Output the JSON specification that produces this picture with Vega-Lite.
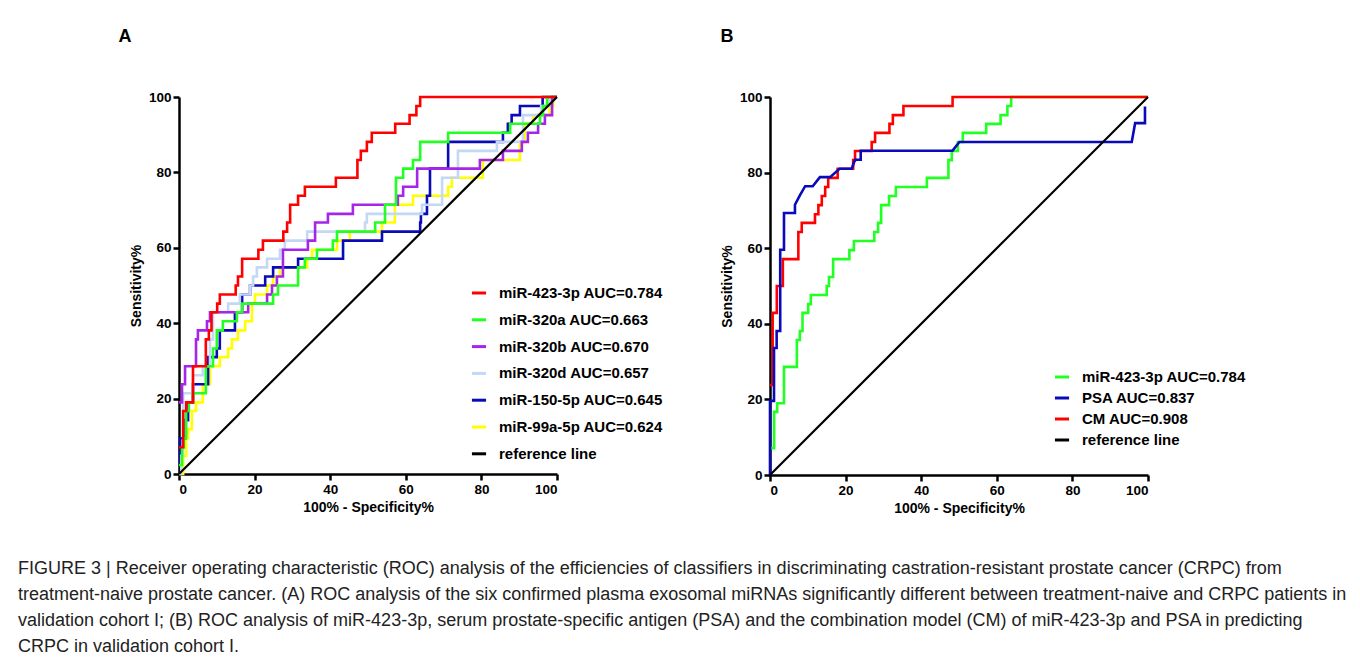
{
  "$schema": "https://vega.github.io/schema/vega-lite/v6.json",
  "padding": {"left": 18, "top": 28, "right": 5, "bottom": 0},
  "background": "white",
  "bounds": "flush",
  "spacing": 213,
  "resolve": {"scale": {"color": "independent"}, "legend": {"color": "independent"}},
  "title": {
    "text": [
      "FIGURE 3 | Receiver operating characteristic (ROC) analysis of the efficiencies of classifiers in discriminating castration-resistant prostate cancer (CRPC) from",
      "treatment-naive prostate cancer. (A) ROC analysis of the six confirmed plasma exosomal miRNAs significantly different between treatment-naive and CRPC patients in",
      "validation cohort I; (B) ROC analysis of miR-423-3p, serum prostate-specific antigen (PSA) and the combination model (CM) of miR-423-3p and PSA in predicting",
      "CRPC in validation cohort I."
    ],
    "orient": "bottom",
    "anchor": "start",
    "frame": "group",
    "dx": -161,
    "offset": 44,
    "font": "Liberation Sans",
    "fontSize": 18,
    "fontWeight": "normal",
    "color": "#222222",
    "lineHeight": 26
  },
  "datasets": {
    "m423": [
      {"s": "miR-423-3p AUC=0.784", "x": 0, "y": 7.1},
      {"s": "miR-423-3p AUC=0.784", "x": 1.1, "y": 16.7},
      {"s": "miR-423-3p AUC=0.784", "x": 1.9, "y": 19.0},
      {"s": "miR-423-3p AUC=0.784", "x": 3.7, "y": 28.6},
      {"s": "miR-423-3p AUC=0.784", "x": 7.1, "y": 35.7},
      {"s": "miR-423-3p AUC=0.784", "x": 7.9, "y": 38.1},
      {"s": "miR-423-3p AUC=0.784", "x": 8.6, "y": 42.9},
      {"s": "miR-423-3p AUC=0.784", "x": 10.1, "y": 45.2},
      {"s": "miR-423-3p AUC=0.784", "x": 10.8, "y": 47.6},
      {"s": "miR-423-3p AUC=0.784", "x": 15.0, "y": 50.0},
      {"s": "miR-423-3p AUC=0.784", "x": 15.6, "y": 52.4},
      {"s": "miR-423-3p AUC=0.784", "x": 16.7, "y": 57.1},
      {"s": "miR-423-3p AUC=0.784", "x": 21.0, "y": 59.5},
      {"s": "miR-423-3p AUC=0.784", "x": 22.2, "y": 61.9},
      {"s": "miR-423-3p AUC=0.784", "x": 27.6, "y": 64.3},
      {"s": "miR-423-3p AUC=0.784", "x": 28.6, "y": 66.7},
      {"s": "miR-423-3p AUC=0.784", "x": 29.4, "y": 71.4},
      {"s": "miR-423-3p AUC=0.784", "x": 31.5, "y": 73.8},
      {"s": "miR-423-3p AUC=0.784", "x": 33.3, "y": 76.2},
      {"s": "miR-423-3p AUC=0.784", "x": 41.5, "y": 78.6},
      {"s": "miR-423-3p AUC=0.784", "x": 47.2, "y": 83.3},
      {"s": "miR-423-3p AUC=0.784", "x": 48.1, "y": 85.7},
      {"s": "miR-423-3p AUC=0.784", "x": 49.7, "y": 88.1},
      {"s": "miR-423-3p AUC=0.784", "x": 51.0, "y": 90.5},
      {"s": "miR-423-3p AUC=0.784", "x": 57.2, "y": 92.9},
      {"s": "miR-423-3p AUC=0.784", "x": 61.0, "y": 95.2},
      {"s": "miR-423-3p AUC=0.784", "x": 62.8, "y": 97.6},
      {"s": "miR-423-3p AUC=0.784", "x": 63.8, "y": 100},
      {"s": "miR-423-3p AUC=0.784", "x": 100, "y": 100}
    ],
    "a6": [
      {"s": "miR-99a-5p AUC=0.624", "x": 0, "y": 0},
      {"s": "miR-99a-5p AUC=0.624", "x": 1.1, "y": 4.8},
      {"s": "miR-99a-5p AUC=0.624", "x": 1.9, "y": 9.5},
      {"s": "miR-99a-5p AUC=0.624", "x": 2.4, "y": 11.9},
      {"s": "miR-99a-5p AUC=0.624", "x": 3.4, "y": 16.7},
      {"s": "miR-99a-5p AUC=0.624", "x": 4.5, "y": 19.0},
      {"s": "miR-99a-5p AUC=0.624", "x": 6.3, "y": 23.8},
      {"s": "miR-99a-5p AUC=0.624", "x": 8.2, "y": 28.6},
      {"s": "miR-99a-5p AUC=0.624", "x": 10.8, "y": 31.0},
      {"s": "miR-99a-5p AUC=0.624", "x": 13.0, "y": 33.3},
      {"s": "miR-99a-5p AUC=0.624", "x": 14.0, "y": 35.7},
      {"s": "miR-99a-5p AUC=0.624", "x": 15.6, "y": 38.1},
      {"s": "miR-99a-5p AUC=0.624", "x": 17.5, "y": 40.5},
      {"s": "miR-99a-5p AUC=0.624", "x": 19.3, "y": 45.2},
      {"s": "miR-99a-5p AUC=0.624", "x": 20.1, "y": 47.6},
      {"s": "miR-99a-5p AUC=0.624", "x": 23.3, "y": 50.0},
      {"s": "miR-99a-5p AUC=0.624", "x": 24.9, "y": 52.4},
      {"s": "miR-99a-5p AUC=0.624", "x": 26.7, "y": 54.8},
      {"s": "miR-99a-5p AUC=0.624", "x": 33.9, "y": 57.1},
      {"s": "miR-99a-5p AUC=0.624", "x": 35.2, "y": 59.5},
      {"s": "miR-99a-5p AUC=0.624", "x": 41.8, "y": 61.9},
      {"s": "miR-99a-5p AUC=0.624", "x": 45.2, "y": 64.3},
      {"s": "miR-99a-5p AUC=0.624", "x": 53.7, "y": 66.7},
      {"s": "miR-99a-5p AUC=0.624", "x": 57.1, "y": 71.4},
      {"s": "miR-99a-5p AUC=0.624", "x": 61.9, "y": 73.8},
      {"s": "miR-99a-5p AUC=0.624", "x": 71.2, "y": 76.2},
      {"s": "miR-99a-5p AUC=0.624", "x": 72.2, "y": 78.6},
      {"s": "miR-99a-5p AUC=0.624", "x": 80.4, "y": 83.3},
      {"s": "miR-99a-5p AUC=0.624", "x": 90.2, "y": 88.1},
      {"s": "miR-99a-5p AUC=0.624", "x": 91.5, "y": 92.9},
      {"s": "miR-99a-5p AUC=0.624", "x": 93.7, "y": 95.2},
      {"s": "miR-99a-5p AUC=0.624", "x": 98.1, "y": 97.6},
      {"s": "miR-99a-5p AUC=0.624", "x": 99.0, "y": 100},
      {"s": "miR-99a-5p AUC=0.624", "x": 100, "y": 100},
      {"s": "miR-150-5p AUC=0.645", "x": 0, "y": 2.4},
      {"s": "miR-150-5p AUC=0.645", "x": 0.3, "y": 9.5},
      {"s": "miR-150-5p AUC=0.645", "x": 1.6, "y": 14.3},
      {"s": "miR-150-5p AUC=0.645", "x": 2.4, "y": 19.0},
      {"s": "miR-150-5p AUC=0.645", "x": 3.7, "y": 23.8},
      {"s": "miR-150-5p AUC=0.645", "x": 7.7, "y": 31.0},
      {"s": "miR-150-5p AUC=0.645", "x": 10.0, "y": 33.3},
      {"s": "miR-150-5p AUC=0.645", "x": 10.8, "y": 38.1},
      {"s": "miR-150-5p AUC=0.645", "x": 14.8, "y": 42.9},
      {"s": "miR-150-5p AUC=0.645", "x": 16.7, "y": 47.6},
      {"s": "miR-150-5p AUC=0.645", "x": 18.8, "y": 50.0},
      {"s": "miR-150-5p AUC=0.645", "x": 22.8, "y": 52.4},
      {"s": "miR-150-5p AUC=0.645", "x": 24.9, "y": 54.8},
      {"s": "miR-150-5p AUC=0.645", "x": 31.5, "y": 57.1},
      {"s": "miR-150-5p AUC=0.645", "x": 43.4, "y": 61.9},
      {"s": "miR-150-5p AUC=0.645", "x": 53.7, "y": 64.3},
      {"s": "miR-150-5p AUC=0.645", "x": 63.8, "y": 66.7},
      {"s": "miR-150-5p AUC=0.645", "x": 64.0, "y": 69.0},
      {"s": "miR-150-5p AUC=0.645", "x": 65.6, "y": 73.8},
      {"s": "miR-150-5p AUC=0.645", "x": 66.4, "y": 81.0},
      {"s": "miR-150-5p AUC=0.645", "x": 71.2, "y": 88.1},
      {"s": "miR-150-5p AUC=0.645", "x": 85.7, "y": 90.5},
      {"s": "miR-150-5p AUC=0.645", "x": 87.0, "y": 92.9},
      {"s": "miR-150-5p AUC=0.645", "x": 88.0, "y": 95.2},
      {"s": "miR-150-5p AUC=0.645", "x": 90.2, "y": 97.6},
      {"s": "miR-150-5p AUC=0.645", "x": 96.2, "y": 100},
      {"s": "miR-150-5p AUC=0.645", "x": 100, "y": 100},
      {"s": "miR-320d AUC=0.657", "x": 0, "y": 0},
      {"s": "miR-320d AUC=0.657", "x": 0.6, "y": 4.8},
      {"s": "miR-320d AUC=0.657", "x": 1.1, "y": 21.4},
      {"s": "miR-320d AUC=0.657", "x": 3.7, "y": 26.2},
      {"s": "miR-320d AUC=0.657", "x": 6.3, "y": 28.6},
      {"s": "miR-320d AUC=0.657", "x": 8.2, "y": 35.7},
      {"s": "miR-320d AUC=0.657", "x": 9.0, "y": 42.9},
      {"s": "miR-320d AUC=0.657", "x": 13.0, "y": 45.2},
      {"s": "miR-320d AUC=0.657", "x": 16.1, "y": 47.6},
      {"s": "miR-320d AUC=0.657", "x": 18.8, "y": 50.0},
      {"s": "miR-320d AUC=0.657", "x": 19.6, "y": 52.4},
      {"s": "miR-320d AUC=0.657", "x": 20.6, "y": 54.8},
      {"s": "miR-320d AUC=0.657", "x": 23.3, "y": 57.1},
      {"s": "miR-320d AUC=0.657", "x": 26.7, "y": 59.5},
      {"s": "miR-320d AUC=0.657", "x": 28.0, "y": 61.9},
      {"s": "miR-320d AUC=0.657", "x": 33.9, "y": 64.3},
      {"s": "miR-320d AUC=0.657", "x": 49.2, "y": 66.7},
      {"s": "miR-320d AUC=0.657", "x": 49.7, "y": 69.0},
      {"s": "miR-320d AUC=0.657", "x": 64.3, "y": 71.4},
      {"s": "miR-320d AUC=0.657", "x": 69.6, "y": 78.6},
      {"s": "miR-320d AUC=0.657", "x": 73.8, "y": 85.7},
      {"s": "miR-320d AUC=0.657", "x": 84.1, "y": 88.1},
      {"s": "miR-320d AUC=0.657", "x": 91.0, "y": 95.2},
      {"s": "miR-320d AUC=0.657", "x": 95.8, "y": 97.6},
      {"s": "miR-320d AUC=0.657", "x": 98.0, "y": 100},
      {"s": "miR-320d AUC=0.657", "x": 100, "y": 100},
      {"s": "miR-320b AUC=0.670", "x": 0, "y": 19.0},
      {"s": "miR-320b AUC=0.670", "x": 0.8, "y": 23.8},
      {"s": "miR-320b AUC=0.670", "x": 1.6, "y": 28.6},
      {"s": "miR-320b AUC=0.670", "x": 4.5, "y": 35.7},
      {"s": "miR-320b AUC=0.670", "x": 5.0, "y": 38.1},
      {"s": "miR-320b AUC=0.670", "x": 7.4, "y": 40.5},
      {"s": "miR-320b AUC=0.670", "x": 8.2, "y": 42.9},
      {"s": "miR-320b AUC=0.670", "x": 18.3, "y": 45.2},
      {"s": "miR-320b AUC=0.670", "x": 23.3, "y": 47.6},
      {"s": "miR-320b AUC=0.670", "x": 24.6, "y": 50.0},
      {"s": "miR-320b AUC=0.670", "x": 25.9, "y": 52.4},
      {"s": "miR-320b AUC=0.670", "x": 27.5, "y": 59.5},
      {"s": "miR-320b AUC=0.670", "x": 34.1, "y": 61.9},
      {"s": "miR-320b AUC=0.670", "x": 36.0, "y": 66.7},
      {"s": "miR-320b AUC=0.670", "x": 39.4, "y": 69.0},
      {"s": "miR-320b AUC=0.670", "x": 46.0, "y": 71.4},
      {"s": "miR-320b AUC=0.670", "x": 57.9, "y": 73.8},
      {"s": "miR-320b AUC=0.670", "x": 59.3, "y": 76.2},
      {"s": "miR-320b AUC=0.670", "x": 63.0, "y": 81.0},
      {"s": "miR-320b AUC=0.670", "x": 79.6, "y": 83.3},
      {"s": "miR-320b AUC=0.670", "x": 85.7, "y": 85.7},
      {"s": "miR-320b AUC=0.670", "x": 90.7, "y": 88.1},
      {"s": "miR-320b AUC=0.670", "x": 92.3, "y": 90.5},
      {"s": "miR-320b AUC=0.670", "x": 95.0, "y": 92.9},
      {"s": "miR-320b AUC=0.670", "x": 96.8, "y": 95.2},
      {"s": "miR-320b AUC=0.670", "x": 98.7, "y": 100},
      {"s": "miR-320b AUC=0.670", "x": 100, "y": 100},
      {"s": "miR-320a AUC=0.663", "x": 0, "y": 2.4},
      {"s": "miR-320a AUC=0.663", "x": 0.8, "y": 7.1},
      {"s": "miR-320a AUC=0.663", "x": 1.3, "y": 9.5},
      {"s": "miR-320a AUC=0.663", "x": 1.9, "y": 16.7},
      {"s": "miR-320a AUC=0.663", "x": 2.6, "y": 19.0},
      {"s": "miR-320a AUC=0.663", "x": 3.7, "y": 21.4},
      {"s": "miR-320a AUC=0.663", "x": 7.1, "y": 28.6},
      {"s": "miR-320a AUC=0.663", "x": 9.0, "y": 33.3},
      {"s": "miR-320a AUC=0.663", "x": 10.0, "y": 38.1},
      {"s": "miR-320a AUC=0.663", "x": 11.6, "y": 40.5},
      {"s": "miR-320a AUC=0.663", "x": 15.3, "y": 42.9},
      {"s": "miR-320a AUC=0.663", "x": 16.7, "y": 45.2},
      {"s": "miR-320a AUC=0.663", "x": 24.9, "y": 47.6},
      {"s": "miR-320a AUC=0.663", "x": 26.2, "y": 50.0},
      {"s": "miR-320a AUC=0.663", "x": 31.5, "y": 54.8},
      {"s": "miR-320a AUC=0.663", "x": 33.3, "y": 57.1},
      {"s": "miR-320a AUC=0.663", "x": 36.5, "y": 59.5},
      {"s": "miR-320a AUC=0.663", "x": 40.7, "y": 61.9},
      {"s": "miR-320a AUC=0.663", "x": 41.8, "y": 64.3},
      {"s": "miR-320a AUC=0.663", "x": 51.9, "y": 66.7},
      {"s": "miR-320a AUC=0.663", "x": 54.5, "y": 71.4},
      {"s": "miR-320a AUC=0.663", "x": 57.4, "y": 78.6},
      {"s": "miR-320a AUC=0.663", "x": 59.3, "y": 81.0},
      {"s": "miR-320a AUC=0.663", "x": 61.9, "y": 83.3},
      {"s": "miR-320a AUC=0.663", "x": 63.8, "y": 88.1},
      {"s": "miR-320a AUC=0.663", "x": 71.2, "y": 90.5},
      {"s": "miR-320a AUC=0.663", "x": 87.6, "y": 92.9},
      {"s": "miR-320a AUC=0.663", "x": 95.5, "y": 95.2},
      {"s": "miR-320a AUC=0.663", "x": 96.3, "y": 97.6},
      {"s": "miR-320a AUC=0.663", "x": 97.4, "y": 100},
      {"s": "miR-320a AUC=0.663", "x": 100, "y": 100}
    ],
    "cm": [
      {"s": "CM AUC=0.908", "x": 0, "y": 23.8},
      {"s": "CM AUC=0.908", "x": 0.7, "y": 42.9},
      {"s": "CM AUC=0.908", "x": 1.8, "y": 50.0},
      {"s": "CM AUC=0.908", "x": 3.4, "y": 57.1},
      {"s": "CM AUC=0.908", "x": 7.5, "y": 64.3},
      {"s": "CM AUC=0.908", "x": 8.4, "y": 66.7},
      {"s": "CM AUC=0.908", "x": 11.9, "y": 69.0},
      {"s": "CM AUC=0.908", "x": 12.8, "y": 71.4},
      {"s": "CM AUC=0.908", "x": 13.7, "y": 73.8},
      {"s": "CM AUC=0.908", "x": 14.6, "y": 76.2},
      {"s": "CM AUC=0.908", "x": 15.4, "y": 78.6},
      {"s": "CM AUC=0.908", "x": 17.9, "y": 81.0},
      {"s": "CM AUC=0.908", "x": 22.0, "y": 83.3},
      {"s": "CM AUC=0.908", "x": 22.5, "y": 85.7},
      {"s": "CM AUC=0.908", "x": 26.9, "y": 88.1},
      {"s": "CM AUC=0.908", "x": 27.8, "y": 90.5},
      {"s": "CM AUC=0.908", "x": 31.6, "y": 92.9},
      {"s": "CM AUC=0.908", "x": 32.5, "y": 95.2},
      {"s": "CM AUC=0.908", "x": 35.3, "y": 97.6},
      {"s": "CM AUC=0.908", "x": 48.3, "y": 100},
      {"s": "CM AUC=0.908", "x": 100, "y": 100}
    ],
    "psa": [
      {"s": "PSA AUC=0.837", "x": 0, "y": 0},
      {"s": "PSA AUC=0.837", "x": 0, "y": 19.6},
      {"s": "PSA AUC=0.837", "x": 1.06, "y": 19.6},
      {"s": "PSA AUC=0.837", "x": 1.06, "y": 33.6},
      {"s": "PSA AUC=0.837", "x": 1.76, "y": 33.6},
      {"s": "PSA AUC=0.837", "x": 1.76, "y": 38.1},
      {"s": "PSA AUC=0.837", "x": 2.7, "y": 38.1},
      {"s": "PSA AUC=0.837", "x": 2.7, "y": 59.6},
      {"s": "PSA AUC=0.837", "x": 3.7, "y": 59.6},
      {"s": "PSA AUC=0.837", "x": 3.7, "y": 69.3},
      {"s": "PSA AUC=0.837", "x": 6.6, "y": 69.3},
      {"s": "PSA AUC=0.837", "x": 6.6, "y": 71.5},
      {"s": "PSA AUC=0.837", "x": 7.9, "y": 74.0},
      {"s": "PSA AUC=0.837", "x": 9.3, "y": 76.4},
      {"s": "PSA AUC=0.837", "x": 11.3, "y": 76.4},
      {"s": "PSA AUC=0.837", "x": 13.2, "y": 78.8},
      {"s": "PSA AUC=0.837", "x": 15.9, "y": 78.8},
      {"s": "PSA AUC=0.837", "x": 18.4, "y": 81.0},
      {"s": "PSA AUC=0.837", "x": 21.6, "y": 81.0},
      {"s": "PSA AUC=0.837", "x": 22.5, "y": 83.4},
      {"s": "PSA AUC=0.837", "x": 24.0, "y": 83.4},
      {"s": "PSA AUC=0.837", "x": 24.0, "y": 85.8},
      {"s": "PSA AUC=0.837", "x": 48.3, "y": 85.8},
      {"s": "PSA AUC=0.837", "x": 50.1, "y": 88.1},
      {"s": "PSA AUC=0.837", "x": 95.7, "y": 88.1},
      {"s": "PSA AUC=0.837", "x": 96.6, "y": 93.1},
      {"s": "PSA AUC=0.837", "x": 99.2, "y": 93.1},
      {"s": "PSA AUC=0.837", "x": 99.2, "y": 97.5}
    ],
    "ref": [
      {"s": "reference line", "x": 0, "y": 0},
      {"s": "reference line", "x": 100, "y": 100}
    ]
  },
  "hconcat": [
    {
      "width": 378,
      "height": 377,
      "title": {"text": "A", "anchor": "start", "frame": "bounds", "font": "Liberation Sans", "fontSize": 18, "fontWeight": "bold", "color": "#000000", "offset": 44, "dx": -11},
      "encoding": {
        "x": {"field": "x", "type": "quantitative", "scale": {"domain": [0, 100], "nice": false}, "axis": {"title": "100% - Specificity%", "values": [0, 20, 40, 60, 80, 100]}},
        "y": {"field": "y", "type": "quantitative", "scale": {"domain": [0, 100], "nice": false}, "axis": {"title": "Sensitivity%", "values": [0, 20, 40, 60, 80, 100]}},
        "color": {
          "field": "s", "type": "nominal",
          "scale": {
            "domain": ["miR-423-3p AUC=0.784", "miR-320a AUC=0.663", "miR-320b AUC=0.670", "miR-320d AUC=0.657", "miR-150-5p AUC=0.645", "miR-99a-5p AUC=0.624", "reference line"],
            "range": ["#FF0000", "#22FF22", "#A526E8", "#C2D8F4", "#0A0AB8", "#FFFF00", "#000000"]
          },
          "legend": {"title": null, "orient": "none", "legendX": 291, "legendY": 187, "symbolType": "stroke", "symbolSize": 200, "symbolStrokeWidth": 3, "labelFont": "Liberation Sans", "labelFontSize": 15, "labelFontWeight": "bold", "labelColor": "#000000", "labelLimit": 0, "rowPadding": 9.8, "labelOffset": 11}
        },
        "order": [{"field": "x", "type": "quantitative"}, {"field": "y", "type": "quantitative"}]
      },
      "layer": [
        {"data": {"name": "a6"}, "mark": {"type": "line", "interpolate": "step-after", "strokeWidth": 2.6}},
        {"data": {"name": "m423"}, "mark": {"type": "line", "interpolate": "step-after", "strokeWidth": 2.6}},
        {"data": {"name": "ref"}, "mark": {"type": "line", "strokeWidth": 2.2}}
      ]
    },
    {
      "width": 378,
      "height": 378,
      "title": {"text": "B", "anchor": "start", "frame": "bounds", "font": "Liberation Sans", "fontSize": 18, "fontWeight": "bold", "color": "#000000", "offset": 44, "dx": 0},
      "encoding": {
        "x": {"field": "x", "type": "quantitative", "scale": {"domain": [0, 100], "nice": false}, "axis": {"title": "100% - Specificity%", "values": [0, 20, 40, 60, 80, 100]}},
        "y": {"field": "y", "type": "quantitative", "scale": {"domain": [0, 100], "nice": false}, "axis": {"title": "Sensitivity%", "values": [0, 20, 40, 60, 80, 100]}},
        "color": {
          "field": "s", "type": "nominal",
          "scale": {
            "domain": ["miR-423-3p AUC=0.784", "PSA AUC=0.837", "CM AUC=0.908", "reference line"],
            "range": ["#22FF22", "#0A0AB8", "#FF0000", "#000000"]
          },
          "legend": {"title": null, "orient": "none", "legendX": 283, "legendY": 271, "symbolType": "stroke", "symbolSize": 200, "symbolStrokeWidth": 3, "labelFont": "Liberation Sans", "labelFontSize": 15, "labelFontWeight": "bold", "labelColor": "#000000", "labelLimit": 0, "rowPadding": 4, "labelOffset": 11}
        },
        "order": [{"field": "x", "type": "quantitative"}, {"field": "y", "type": "quantitative"}]
      },
      "layer": [
        {"data": {"name": "m423"}, "mark": {"type": "line", "interpolate": "step-after", "strokeWidth": 2.6}},
        {"data": {"name": "cm"}, "mark": {"type": "line", "interpolate": "step-after", "strokeWidth": 2.6}},
        {"data": {"name": "psa"}, "mark": {"type": "line", "strokeWidth": 2.6}},
        {"data": {"name": "ref"}, "mark": {"type": "line", "strokeWidth": 2.2}}
      ]
    }
  ],
  "config": {
    "view": {"stroke": null},
    "axis": {
      "grid": false,
      "domainColor": "#000000",
      "domainWidth": 2.5,
      "tickColor": "#000000",
      "tickWidth": 2.5,
      "tickSize": 6,
      "labelFont": "Liberation Sans",
      "labelFontSize": 13.5,
      "labelFontWeight": "bold",
      "labelColor": "#000000",
      "labelPadding": 2,
      "titleFont": "Liberation Sans",
      "titleFontSize": 14,
      "titleFontWeight": "bold",
      "titleColor": "#000000",
      "titlePadding": 5
    }
  }
}
